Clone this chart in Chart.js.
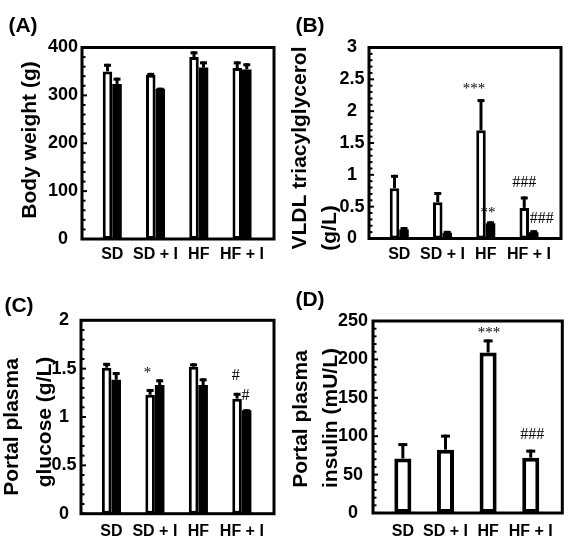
<!DOCTYPE html>
<html>
<head>
<meta charset="utf-8">
<script src="https://cdn.jsdelivr.net/npm/chart.js@4.4.1/dist/chart.umd.min.js"></script>
<style>
html, body { margin: 0; padding: 0; background: #fff; }
#wrap { position: relative; width: 571px; height: 543px; overflow: hidden; background: #fff; }
.panel { position: absolute; }
.panel canvas { display: block; }
</style>
</head>
<body>
<div id="wrap">
  <div class="panel" style="left:0;top:0;width:285px;height:270px"><canvas id="cA" width="285" height="270"></canvas></div>
  <div class="panel" style="left:285px;top:0;width:286px;height:270px"><canvas id="cB" width="286" height="270"></canvas></div>
  <div class="panel" style="left:0;top:270px;width:285px;height:273px"><canvas id="cC" width="285" height="273"></canvas></div>
  <div class="panel" style="left:285px;top:270px;width:286px;height:273px"><canvas id="cD" width="286" height="273"></canvas></div>
</div>
<script>
// ---------------- DATA ----------------
const categories = ['SD', 'SD + I', 'HF', 'HF + I'];

// (A) Body weight (g)
const bodyWeightOpen = [350, 343, 380, 357];
const bodyWeightOpenErr = [16, 4, 12, 14];
const bodyWeightFilled = [324, 314, 358, 354];
const bodyWeightFilledErr = [13, 2, 13, 13];
const bodyWeightTicks = [0, 100, 200, 300, 400];

// (B) VLDL triacylglycerol (g/L)
const vldlOpen = [0.79, 0.57, 1.70, 0.48];
const vldlOpenErr = [0.21, 0.16, 0.49, 0.18];
const vldlFilled = [0.14, 0.09, 0.24, 0.10];
const vldlFilledErr = [0.04, 0.03, 0.03, 0.03];
const vldlTicks = [0, 0.5, 1, 1.5, 2, 2.5, 3];
const vldlMarksOpen = ['', '', '***', '###'];
const vldlMarksFilled = ['', '', '**', '###'];

// (C) Portal plasma glucose (g/L)
const glucoseOpen = [1.51, 1.23, 1.52, 1.19];
const glucoseOpenErr = [0.05, 0.06, 0.035, 0.06];
const glucoseFilled = [1.385, 1.33, 1.33, 1.07];
const glucoseFilledErr = [0.08, 0.06, 0.07, 0.01];
const glucoseTicks = [0, 0.5, 1, 1.5, 2];
const glucoseMarksOpen = ['', '*', '', '#'];
const glucoseMarksFilled = ['', '', '', '#'];

// (D) Portal plasma insulin (mU/L)
const insulinOpen = [71, 82.5, 209, 72];
const insulinOpenErr = [20, 19.5, 17, 10.5];
const insulinTicks = [0, 50, 100, 150, 200, 250];
const insulinMarks = ['', '', '***', '###'];

// ---------------- RENDERING ----------------
const FONT = '"Liberation Sans", Arial, Helvetica, sans-serif';
const SERIF = '"Liberation Serif", "Times New Roman", serif';

function buildMarks(open, filled, offsets) {
  const out = [];
  [open, filled].forEach((arr, s) => {
    if (!arr) return;
    arr.forEach((t, i) => {
      if (!t) return;
      const off = offsets[s + '-' + i] || [0, -12];
      out.push({ series: s, cat: i, text: t, dx: off[0], dy: off[1] });
    });
  });
  return out;
}

const decor = {
  id: 'decor',
  afterDatasetsDraw(chart, args, o) {
    const ctx = chart.ctx, a = chart.chartArea, ys = chart.scales.y;
    ctx.save();
    ctx.strokeStyle = '#000';
    ctx.fillStyle = '#000';
    // error bars (upper half only)
    chart.data.datasets.forEach((ds, di) => {
      const meta = chart.getDatasetMeta(di);
      meta.data.forEach((el, i) => {
        const top = ys.getPixelForValue(ds.data[i].y + ds.errors[i]);
        ctx.lineWidth = 3;
        ctx.beginPath(); ctx.moveTo(el.x, el.y); ctx.lineTo(el.x, top); ctx.stroke();
        ctx.beginPath(); ctx.moveTo(el.x - o.cap / 2, top + 1.5); ctx.lineTo(el.x + o.cap / 2, top + 1.5); ctx.stroke();
      });
    });
    // inner tick marks on left axis
    const tv = ys.ticks.map(t => t.value);
    ctx.lineWidth = 2;
    tv.forEach((v, k) => {
      const y = ys.getPixelForValue(v);
      ctx.beginPath(); ctx.moveTo(a.left, y); ctx.lineTo(a.left + 5, y); ctx.stroke();
      if (k < tv.length - 1) {
        for (let m = 1; m < 5; m++) {
          const yy = ys.getPixelForValue(v + (tv[k + 1] - v) * m / 5);
          ctx.beginPath(); ctx.moveTo(a.left, yy); ctx.lineTo(a.left + 3.5, yy); ctx.stroke();
        }
      }
    });
    // frame
    ctx.lineWidth = 3;
    ctx.strokeRect(a.left, a.top, a.right - a.left, a.bottom - a.top);
    // significance marks
    (o.marks || []).forEach(m => {
      const ds = chart.data.datasets[m.series];
      const el = chart.getDatasetMeta(m.series).data[m.cat];
      const top = ys.getPixelForValue(ds.data[m.cat].y + ds.errors[m.cat]);
      ctx.font = (m.text.indexOf('*') >= 0 ? '15px ' : '16px ') + SERIF;
      ctx.textAlign = 'center';
      ctx.textBaseline = 'middle';
      ctx.fillText(m.text, el.x + m.dx, top + m.dy);
    });
    // axis titles (rotated)
    o.titles.forEach(t => {
      ctx.save();
      ctx.translate(t.x, t.y);
      ctx.rotate(-Math.PI / 2);
      ctx.font = 'bold 21px ' + FONT;
      ctx.textAlign = 'center';
      ctx.textBaseline = 'middle';
      ctx.fillText(t.text, 0, 0);
      ctx.restore();
    });
    // panel letter
    ctx.font = 'bold 21px ' + FONT;
    ctx.textAlign = 'center';
    ctx.textBaseline = 'middle';
    ctx.fillText(o.letter.text, o.letter.x, o.letter.y);
    ctx.restore();
  }
};

function makePanel(id, p) {
  const fills = ['#ffffff', '#000000'];
  const datasets = p.series.map((s, si) => ({
    label: 'series' + si,
    data: s.values.map((v, i) => ({ x: i + 1, y: v })),
    errors: s.errors,
    backgroundColor: fills[si],
    borderColor: '#000',
    borderWidth: si === 0 ? p.borderWidth : 0,
    borderSkipped: false,
    categoryPercentage: p.catPct,
    barPercentage: 1.0
  }));
  return new Chart(document.getElementById(id), {
    type: 'bar',
    data: { datasets },
    plugins: [decor],
    options: {
      responsive: false,
      animation: false,
      devicePixelRatio: 1,
      layout: { padding: p.padding },
      plugins: {
        legend: { display: false },
        tooltip: { enabled: false },
        decor: { cap: p.cap, marks: p.marks, titles: p.titles, letter: p.letter }
      },
      scales: {
        x: {
          type: 'linear',
          offset: false,
          bounds: 'data',
          min: 0.3,
          max: 4.74,
          afterBuildTicks: s => { s.ticks = categories.map((c, i) => ({ value: i + 1 })); },
          afterFit: s => { s.height = 25; },
          ticks: {
            callback: (v, i) => categories[i],
            autoSkip: false, maxRotation: 0, minRotation: 0,
            padding: p.xPad,
            color: '#000',
            font: { family: FONT, size: 16, weight: 'bold' }
          },
          grid: { display: false, drawTicks: false, offset: false },
          border: { display: false }
        },
        y: {
          min: p.yTicks[0],
          max: p.yTicks[p.yTicks.length - 1],
          afterBuildTicks: s => { s.ticks = p.yTicks.map(v => ({ value: v })); },
          afterFit: s => { s.width = 40; },
          ticks: {
            callback: v => String(v),
            padding: p.yPad,
            crossAlign: 'center',
            color: '#000',
            font: { family: FONT, size: 18, weight: 'bold' }
          },
          grid: { display: false, drawTicks: false },
          border: { display: false }
        }
      }
    }
  });
}

makePanel('cA', {
  series: [
    { values: bodyWeightOpen, errors: bodyWeightOpenErr },
    { values: bodyWeightFilled, errors: bodyWeightFilledErr }
  ],
  yTicks: bodyWeightTicks,
  padding: { left: 42, right: 11, top: 47.5, bottom: 6 },
  catPct: 0.44, borderWidth: 3, cap: 7, xPad: 6.4, yPad: 4,
  marks: [],
  titles: [{ text: 'Body weight (g)', x: 30.5, y: 140 }],
  letter: { text: '(A)', x: 23, y: 26 }
});

makePanel('cB', {
  series: [
    { values: vldlOpen, errors: vldlOpenErr },
    { values: vldlFilled, errors: vldlFilledErr }
  ],
  yTicks: vldlTicks,
  padding: { left: 44, right: 10, top: 47.5, bottom: 6.5 },
  catPct: 0.44, borderWidth: 3, cap: 7, xPad: 6.9, yPad: 4.5,
  marks: buildMarks(vldlMarksOpen, vldlMarksFilled,
    { '0-2': [-7, -10.5], '1-2': [-2.5, -8], '0-3': [0, -13.5], '1-3': [8, -11] }),
  titles: [
    { text: 'VLDL triacylglycerol', x: 15, y: 148 },
    { text: '(g/L)', x: 45, y: 228 }
  ],
  letter: { text: '(B)', x: 25, y: 26 }
});

makePanel('cC', {
  series: [
    { values: glucoseOpen, errors: glucoseOpenErr },
    { values: glucoseFilled, errors: glucoseFilledErr }
  ],
  yTicks: glucoseTicks,
  padding: { left: 41, right: 11, top: 50.3, bottom: 4.3 },
  catPct: 0.44, borderWidth: 3, cap: 7, xPad: 8.7, yPad: 4.5,
  marks: buildMarks(glucoseMarksOpen, glucoseMarksFilled,
    { '0-1': [-2.5, -15.7], '0-3': [-1.3, -16.6], '1-3': [-1, -13.3] }),
  titles: [
    { text: 'Portal plasma', x: 12.5, y: 157 },
    { text: 'glucose (g/L)', x: 45, y: 152 }
  ],
  letter: { text: '(C)', x: 19, y: 36 }
});

makePanel('cD', {
  series: [
    { values: insulinOpen, errors: insulinOpenErr }
  ],
  yTicks: insulinTicks,
  padding: { left: 48, right: 8.7, top: 51, bottom: 5 },
  catPct: 0.40, borderWidth: 4, cap: 9, xPad: 8.9, yPad: 5,
  marks: buildMarks(insulinMarks, null, { '0-2': [1, -6.4], '0-3': [1.5, -14.6] }),
  titles: [
    { text: 'Portal plasma', x: 16, y: 149 },
    { text: 'insulin (mU/L)', x: 46, y: 148 }
  ],
  letter: { text: '(D)', x: 25, y: 30 }
});
</script>
</body>
</html>
